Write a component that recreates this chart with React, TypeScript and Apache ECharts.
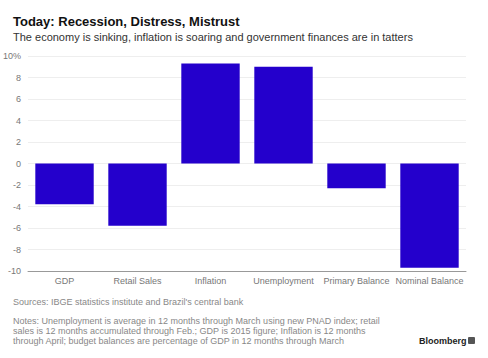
import React, { useEffect, useRef } from "react";
import * as echarts from "echarts";

const categories = ["GDP", "Retail Sales", "Inflation", "Unemployment", "Primary Balance", "Nominal Balance"];
const values = [-3.8, -5.8, 9.3, 9.0, -2.3, -9.7];
const yTicks = { min: -10, max: 10, interval: 2 };

const titleText = "Today: Recession, Distress, Mistrust";
const subtitleText = "The economy is sinking, inflation is soaring and government finances are in tatters";
const sourceText = "Sources: IBGE statistics institute and Brazil's central bank";
const notesLines = [
  "Notes: Unemployment is average in 12 months through March using new PNAD index; retail",
  "sales is 12 months accumulated through Feb.; GDP is 2015 figure; Inflation is 12 months",
  "through April; budget balances are percentage of GDP in 12 months through March",
];

const FONT = "Liberation Sans, Arial, sans-serif";

export default function App() {
  const ref = useRef<HTMLDivElement>(null);
  useEffect(() => {
    if (!ref.current) return;
    const chart = echarts.init(ref.current, null, { renderer: "svg" });
    chart.setOption({
      animation: false,
      backgroundColor: "#ffffff",
      textStyle: { fontFamily: FONT },
      grid: { left: 27, right: 22, top: 56, bottom: 87 },
      xAxis: {
        type: "category",
        data: categories,
        axisLine: { onZero: false, lineStyle: { color: "#999999", width: 1 } },
        axisTick: { alignWithLabel: true, length: 3, lineStyle: { color: "#999999" } },
        axisLabel: { color: "#777777", fontSize: 9, margin: 5, fontFamily: FONT, interval: 0 },
      },
      yAxis: {
        type: "value",
        min: yTicks.min,
        max: yTicks.max,
        interval: yTicks.interval,
        axisLine: { show: false },
        axisTick: { show: false },
        splitLine: { lineStyle: { color: "#eeeeee", width: 1 } },
        axisLabel: {
          color: "#777777",
          fontSize: 9,
          margin: 7,
          fontFamily: FONT,
          formatter: (v: number) => (v === yTicks.max ? v + "%" : String(v)),
        },
      },
      series: [
        {
          type: "bar",
          data: values,
          barWidth: "80%",
          itemStyle: { color: "#2400cc" },
        },
      ],
      graphic: [
        {
          type: "text",
          left: 13,
          top: 15,
          style: { text: titleText, font: "bold 13px " + FONT, fill: "#111111" },
        },
        {
          type: "text",
          left: 13,
          top: 31,
          style: { text: subtitleText, font: "11px " + FONT, fill: "#333333" },
        },
        {
          type: "text",
          left: 13,
          top: 297,
          style: { text: sourceText, font: "9px " + FONT, fill: "#888888" },
        },
        ...notesLines.map((t, i) => ({
          type: "text",
          left: 13,
          top: 316 + i * 10,
          style: { text: t, font: "9px " + FONT, fill: "#888888" },
        })),
        {
          type: "text",
          left: 419,
          top: 336,
          style: { text: "Bloomberg", font: "bold 9px " + FONT, fill: "#222222" },
        },
        {
          type: "rect",
          shape: { x: 468, y: 337, width: 7, height: 7, r: 1 },
          style: { fill: "#555555" },
        },
      ],
    });
    return () => chart.dispose();
  }, []);
  return <div ref={ref} style={{ width: 488, height: 358, position: "absolute", left: 0, top: 0 }} />;
}
